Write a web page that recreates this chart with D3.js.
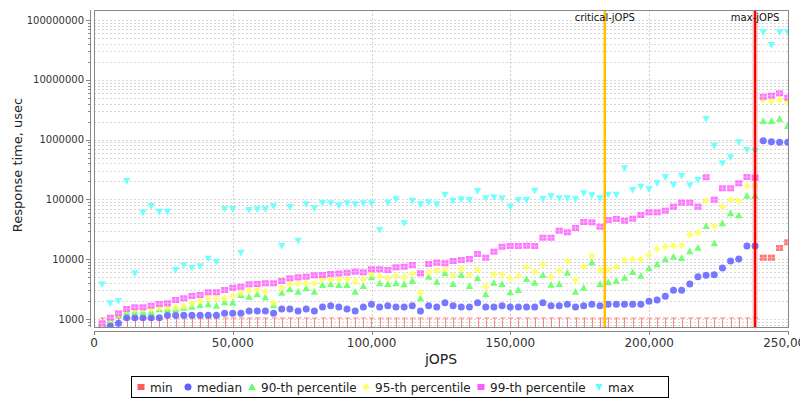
<!DOCTYPE html>
<html>
<head>
<meta charset="utf-8">
<script src="https://cdn.jsdelivr.net/npm/d3@7"></script>
<style>
  body { margin: 0; background: #fff; }
  text { font-family: "DejaVu Sans", sans-serif; }
</style>
</head>
<body>
<svg id="chart" width="800" height="400"></svg>
<script>
// jOPS steps (x)
var jops = [
  2940, 5880, 8820, 11760, 14700, 17640, 20580, 23520, 26460, 29400,
  32340, 35280, 38220, 41160, 44100, 47040, 49980, 52920, 55860, 58800,
  61740, 64680, 67620, 70560, 73500, 76440, 79380, 82320, 85260, 88200,
  91140, 94080, 97020, 99960, 102900, 105840, 108780, 111720, 114660, 117600,
  120540, 123480, 126420, 129360, 132300, 135240, 138180, 141120, 144060, 147000,
  149940, 152880, 155820, 158760, 161700, 164640, 167580, 170520, 173460, 176400,
  179340, 182280, 185220, 188160, 191100, 194040, 196980, 199920, 202860, 205800,
  208740, 211680, 214620, 217560, 220500, 223440, 226380, 229320, 232260, 235200,
  238140, 241080, 244020, 246960, 249900
];

// response times, usec
var minVals = [
  500, 500, 500, 500, 500, 500, 500, 500, 500, 500,
  500, 500, 500, 500, 500, 500, 500, 500, 500, 500,
  500, 500, 500, 500, 500, 500, 500, 500, 500, 500,
  500, 500, 500, 500, 500, 500, 500, 500, 500, 500,
  500, 500, 500, 500, 500, 500, 500, 500, 500, 500,
  500, 500, 500, 500, 500, 500, 500, 500, 500, 500,
  500, 500, 500, 500, 500, 500, 500, 500, 500, 500,
  500, 500, 500, 500, 500, 500, 500, 500, 500, 500,
  500, 10600, 10600, 15400, 19170
];
var medianVals = [
  760, 773, 848, 1051, 1051, 1051, 1051, 1051, 1153, 1153,
  1153, 1153, 1153, 1153, 1153, 1245, 1245, 1245, 1360, 1360,
  1360, 1245, 1470, 1470, 1360, 1470, 1360, 1587, 1668, 1587,
  1470, 1360, 1587, 1762, 1587, 1668, 1587, 1587, 1668, 1360,
  1668, 1587, 1874, 1668, 1587, 1587, 1874, 1587, 1587, 1668,
  1587, 1587, 1587, 1587, 1874, 1668, 1668, 1762, 1587, 1668,
  1762, 1668, 1762, 1762, 1762, 1762, 1762, 1977, 2079, 2400,
  3020, 3020, 3848, 5098, 5382, 5500, 7122, 9333, 10080, 16620,
  16620, 958600, 922500, 901600, 901600
];
var p90Vals = [
  794, 962, 1167, 1325, 1325, 1325, 1325, 1452, 1452, 1452,
  1545, 1606, 1714, 1762, 1668, 1902, 1874, 2518, 2360, 2588,
  2310, 1700, 2754, 3175, 2861, 3260, 2861, 3704, 3848, 3704,
  3704, 2861, 3563, 4980, 3954, 3848, 3954, 3803, 4368, 2219,
  5098, 4205, 5808, 3848, 5443, 3563, 4795, 2588, 4046, 3848,
  2796, 3055, 4664, 4046, 5443, 3740, 3848, 5946, 2861, 3337,
  8875, 3848, 4110, 4368, 4906, 6108, 5300, 7042, 8218, 9960,
  11010, 10470, 13550, 15560, 35890, 18440, 39840, 58560, 54220, 115300,
  115300, 2050000, 2050000, 2240000, 1690000
];
var p95Vals = [
  820, 1000, 1212, 1414, 1452, 1470, 1470, 1545, 1570, 1570,
  1649, 1830, 2000, 2219, 2219, 2219, 2424, 2754, 2940, 3139,
  2861, 1874, 3337, 3848, 3954, 3954, 3954, 4611, 4611, 4611,
  4664, 4205, 4611, 5592, 5098, 4795, 5300, 4980, 5655, 2754,
  6039, 6422, 6777, 5443, 6855, 5443, 6596, 3467, 5592, 5592,
  4795, 5238, 7320, 6180, 8218, 5098, 6350, 9333, 4487, 7492,
  11310, 6596, 6596, 7492, 9697, 9960, 10080, 11750, 14810, 16180,
  16620, 17070, 25700, 27740, 95100, 35890, 75480, 97700, 95100, 165500,
  167400, 4590000, 4420000, 4590000, 4200000
];
var p99Vals = [
  848, 1051, 1245, 1470, 1570, 1570, 1668, 1782, 1830, 2079,
  2219, 2424, 2518, 2796, 2796, 3055, 3337, 3467, 3803, 3848,
  3954, 3954, 4318, 4795, 4980, 5098, 5382, 5443, 5655, 5760,
  5946, 6180, 6039, 6777, 6777, 6596, 7320, 7492, 8000, 5808,
  8312, 8740, 8540, 9333, 9697, 10080, 12220, 10600, 13350, 16180,
  16620, 16620, 16800, 16620, 22880, 22880, 29970, 28180, 33250, 41880,
  41400, 34940, 45240, 46990, 44050, 47550, 54840, 60860, 60860, 64720,
  75480, 88100, 88100, 75480, 234300, 98900, 153300, 153300, 185900, 237000,
  230600, 5210000, 5420000, 5940000, 5010000
];
var maxVals = [
  3803, 1830, 2000, 203200, 5808, 59920, 77550, 62240, 62240, 6596,
  7907, 7211, 7600, 10200, 9083, 69100, 69100, 12850, 66500, 68200,
  69100, 76660, 16620, 74600, 20380, 82780, 71000, 87080, 86500, 79000,
  86070, 82780, 86070, 86070, 30770, 88100, 100400, 39840, 95100, 82780,
  89440, 82780, 119800, 95100, 100400, 97700, 138100, 104300, 108400, 104300,
  75480, 97700, 97700, 139800, 101500, 112700, 104300, 104300, 100400, 126500,
  117100, 104300, 119800, 119800, 331100, 143600, 163000, 149300, 185900, 234300,
  174000, 246200, 172100, 211100, 2210000, 790700, 401600, 505800, 901600, 669900,
  651900, 62300000, 38200000, 62300000, 62300000
];

var seriesNames = ["min", "median", "90-th percentile", "95-th percentile", "99-th percentile", "max"];
var seriesColors = ["#ff5c5c", "#5f5fff", "#5cff5c", "#ffff5c", "#ff5cff", "#5cffff"];
var seriesShapes = ["square", "circle", "triUp", "diamond", "square", "triDown"];

var xTicks = [0, 50000, 100000, 150000, 200000, 250000];
var yTicks = [1000, 10000, 100000, 1000000, 10000000, 100000000];
var criticalJops = 184000;
var maxJops = 238140;

var svg = d3.select("#chart");

var plot = { left: 94, right: 788, top: 10, bottom: 327 };

var x = d3.scaleLinear().domain([0, 250000]).range([plot.left, plot.right]);
var y = d3.scaleLog().domain([735, 1.47e8]).range([plot.bottom, plot.top]);

svg.append("rect").attr("width", 800).attr("height", 400).attr("fill", "#fff");

svg.append("defs").append("clipPath").attr("id", "clip")
  .append("rect")
  .attr("x", plot.left).attr("y", plot.top)
  .attr("width", plot.right - plot.left).attr("height", plot.bottom - plot.top);

// gridlines
var grid = svg.append("g");
grid.selectAll("line.h")
  .data(y.ticks())
  .enter().append("line")
  .attr("x1", plot.left).attr("x2", plot.right)
  .attr("y1", function (d) { return Math.round(y(d)) + 0.5; })
  .attr("y2", function (d) { return Math.round(y(d)) + 0.5; })
  .attr("stroke", "#d6d6d6").attr("stroke-dasharray", "2,2");
grid.selectAll("line.v")
  .data(xTicks.slice(1, 5))
  .enter().append("line")
  .attr("y1", plot.top).attr("y2", plot.bottom)
  .attr("x1", function (d) { return Math.round(x(d)) + 0.5; })
  .attr("x2", function (d) { return Math.round(x(d)) + 0.5; })
  .attr("stroke", "#d0d0d0").attr("stroke-dasharray", "2,2");

// plot frame
svg.append("rect")
  .attr("x", plot.left + 0.5).attr("y", plot.top + 0.5)
  .attr("width", plot.right - plot.left).attr("height", plot.bottom - plot.top)
  .attr("fill", "none").attr("stroke", "#888");

// y axis
var yAxis = svg.append("g");
yAxis.append("line")
  .attr("x1", 90.5).attr("x2", 90.5).attr("y1", plot.top).attr("y2", plot.bottom)
  .attr("stroke", "#888");
yAxis.selectAll("line.tick")
  .data(y.ticks())
  .enter().append("line")
  .attr("x1", function (d) { return yTicks.indexOf(d) >= 0 ? 86 : 88; })
  .attr("x2", 90)
  .attr("y1", function (d) { return Math.round(y(d)) + 0.5; })
  .attr("y2", function (d) { return Math.round(y(d)) + 0.5; })
  .attr("stroke", "#888");
yAxis.selectAll("text")
  .data(yTicks)
  .enter().append("text")
  .attr("x", 84)
  .attr("y", function (d) { return y(d); })
  .attr("dy", "0.35em")
  .attr("text-anchor", "end")
  .style("font-size", "10px")
  .attr("fill", "#333")
  .text(function (d) { return d; });

svg.append("text")
  .attr("transform", "translate(22,165) rotate(-90)")
  .attr("text-anchor", "middle")
  .style("font-size", "13px")
  .attr("fill", "#222")
  .text("Response time, usec");

// x axis
var xAxis = svg.append("g");
xAxis.append("line")
  .attr("x1", plot.left).attr("x2", plot.right).attr("y1", 331.5).attr("y2", 331.5)
  .attr("stroke", "#888");
xAxis.selectAll("line.tick")
  .data(xTicks)
  .enter().append("line")
  .attr("x1", function (d) { return Math.round(x(d)) + 0.5; })
  .attr("x2", function (d) { return Math.round(x(d)) + 0.5; })
  .attr("y1", 331).attr("y2", 335)
  .attr("stroke", "#888");
xAxis.selectAll("text")
  .data(xTicks)
  .enter().append("text")
  .attr("x", function (d) { return x(d); })
  .attr("y", 347)
  .attr("text-anchor", "middle")
  .style("font-size", "12px")
  .attr("fill", "#333")
  .text(function (d) { return d3.format(",")(d); });

svg.append("text")
  .attr("x", 441).attr("y", 364)
  .attr("text-anchor", "middle")
  .style("font-size", "14px")
  .attr("fill", "#222")
  .text("jOPS");

// marker shapes
function shapePath(kind) {
  if (kind === "circle") return "M3.5,0A3.5,3.5 0 1,1 -3.5,0A3.5,3.5 0 1,1 3.5,0Z";
  if (kind === "square") return "M-3.5,-3L3.5,-3L3.5,3L-3.5,3Z";
  if (kind === "triUp") return "M0,-3.7L3.7,3L-3.7,3Z";
  if (kind === "triDown") return "M-3.7,-3L3.7,-3L0,3.7Z";
  if (kind === "diamond") return "M0,-3.8L3.8,0L0,3.8L-3.8,0Z";
}

var chartGroup = svg.append("g").attr("clip-path", "url(#clip)");

var allSeries = [minVals, medianVals, p90Vals, p95Vals, p99Vals, maxVals];
var domainMin = y.domain()[0];

// min values under the axis range: pins at the bottom
chartGroup.append("g")
  .selectAll("path")
  .data(jops.filter(function (d, i) { return minVals[i] < domainMin; }))
  .enter().append("path")
  .attr("d", function (d) {
    var px = Math.round(x(d)) + 0.5;
    return "M" + px + "," + plot.bottom + "V318M" + (px - 2.5) + ",318H" + (px + 3);
  })
  .attr("stroke", "#ff8080").attr("stroke-width", 1).attr("fill", "none");

allSeries.forEach(function (vals, si) {
  var pts = jops.map(function (j, i) { return { x: j, v: vals[i] }; })
    .filter(function (p) { return p.v >= domainMin; });
  var g = chartGroup.append("g");
  g.selectAll("path")
    .data(pts)
    .enter().append("path")
    .attr("transform", function (p) { return "translate(" + x(p.x) + "," + y(p.v) + ")"; })
    .attr("d", shapePath(seriesShapes[si]))
    .attr("fill", seriesColors[si])
    .attr("fill-opacity", 0.85);
  if (seriesShapes[si] === "square") {
    g.selectAll("line")
      .data(pts)
      .enter().append("path")
      .attr("transform", function (p) { return "translate(" + x(p.x) + "," + y(p.v) + ")"; })
      .attr("d", "M-3.5,0H3.5M0,-3V3")
      .attr("stroke", "#fff").attr("stroke-opacity", 0.35).attr("stroke-width", 1);
  }
});

// critical-jOPS / max-jOPS markers
svg.append("line")
  .attr("x1", x(criticalJops)).attr("x2", x(criticalJops))
  .attr("y1", plot.top + 1).attr("y2", plot.bottom)
  .attr("stroke", "#ffc000").attr("stroke-width", 2.5);
svg.append("line")
  .attr("x1", x(maxJops)).attr("x2", x(maxJops))
  .attr("y1", plot.top + 1).attr("y2", plot.bottom)
  .attr("stroke", "#ff0000").attr("stroke-opacity", 0.3).attr("stroke-width", 5);
svg.append("line")
  .attr("x1", x(maxJops)).attr("x2", x(maxJops))
  .attr("y1", plot.top + 1).attr("y2", plot.bottom)
  .attr("stroke", "#ee0000").attr("stroke-width", 2);

svg.append("text")
  .attr("x", x(criticalJops)).attr("y", 21)
  .attr("text-anchor", "middle")
  .style("font-size", "10px")
  .attr("fill", "#111")
  .text("critical-jOPS");
svg.append("text")
  .attr("x", x(maxJops)).attr("y", 21)
  .attr("text-anchor", "middle")
  .style("font-size", "10px")
  .attr("fill", "#111")
  .text("max-jOPS");

// legend
var legend = svg.append("g");
legend.append("rect")
  .attr("x", 131.5).attr("y", 376.5).attr("width", 537).attr("height", 21)
  .attr("fill", "#fff").attr("stroke", "#000");
var legendX = [141, 188, 252, 366, 481, 599];
seriesNames.forEach(function (name, i) {
  legend.append("path")
    .attr("transform", "translate(" + legendX[i] + ",387)")
    .attr("d", shapePath(seriesShapes[i]))
    .attr("fill", seriesColors[i]);
  legend.append("text")
    .attr("x", legendX[i] + 9).attr("y", 391.5)
    .style("font-size", "12px")
    .attr("fill", "#222")
    .text(name);
});
</script>
</body>
</html>
